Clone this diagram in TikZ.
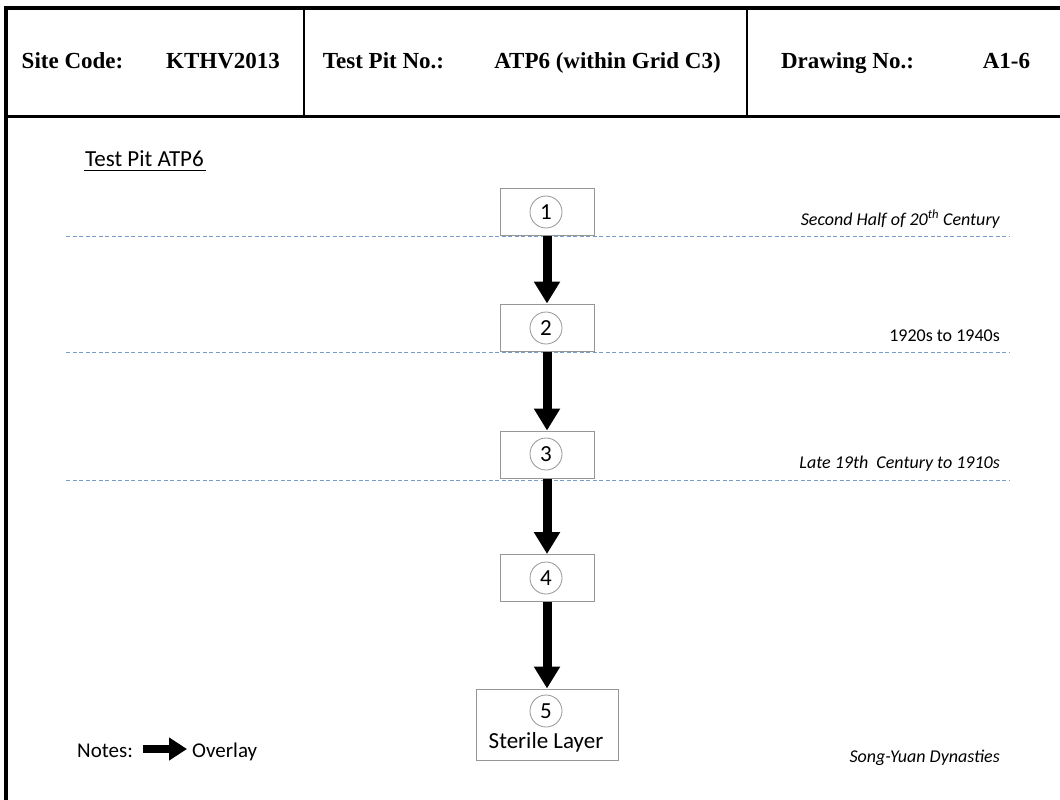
\documentclass[tikz,border=0pt]{standalone}
\usepackage{fontspec}
\setmainfont{Carlito}
\newfontfamily\hdfont{Liberation Serif}
\usetikzlibrary{arrows.meta,positioning}
\definecolor{dashblue}{RGB}{120,155,200}
\definecolor{boxgray}{RGB}{150,150,150}

\begin{document}
\begin{tikzpicture}[x=1pt,y=-1pt,
  every node/.style={inner sep=0pt},
  hdtext/.style={anchor=base,font=\hdfont\bfseries\fontsize{23}{27}\selectfont},
  layerbox/.style={draw=boxgray,line width=1pt,fill=white,minimum width=94pt,minimum height=47pt},
  numcirc/.style={circle,draw=boxgray,line width=.8pt,minimum size=32pt,font=\fontsize{23}{27}\selectfont},
  period/.style={anchor=base east,font=\itshape\fontsize{18}{22}\selectfont},
  seqline/.style={dashblue,line width=1pt,dash pattern=on 4pt off 2.5pt},
  overlay/.style={line width=9pt,-{Triangle[width=25pt,length=22pt]}}]
\useasboundingbox (0,0) rectangle (1060,800);
\draw[line width=4pt] (4,8)--(1060,8);
\draw[line width=4pt] (6,6)--(6,800);
\draw[line width=3pt] (6,116)--(1060,116);
\draw[line width=2.5pt] (304,8)--(304,116);
\draw[line width=1.2pt] (747,8)--(747,116);
\node[hdtext] (sc) at (72.5,69) {Site Code:};
\node[hdtext] (scv) at (223,69) {KTHV2013};
\node[hdtext] (tp) at (383.5,69) {Test Pit No.:};
\node[hdtext] (tpv) at (607.5,69) {ATP6 (within Grid C3)};
\node[hdtext] (dn) at (847.5,69) {Drawing No.:};
\node[hdtext] (dnv) at (1006.5,69) {A1-6};
\node[anchor=base west,font=\fontsize{23}{27}\selectfont] (title) at (85,166) {Test Pit ATP6};
\draw[line width=1pt] (84,170)--(206,170);
\draw[seqline] (66,236)--(1010,236);
\draw[seqline] (66,352)--(1010,352);
\draw[seqline] (66,480)--(1010,480);
\node[layerbox] (l1) at (547,211.5) {};
\node[layerbox] (l2) at (547,327.5) {};
\node[layerbox] (l3) at (547,454.5) {};
\node[layerbox] (l4) at (547,578) {};
\node[layerbox,minimum width=142pt,minimum height=71pt] (l5) at (547,724.5) {};
\node[numcirc] (c1) at (546,212) {1};
\node[numcirc] (c2) at (546,328) {2};
\node[numcirc] (c3) at (546,454) {3};
\node[numcirc] (c4) at (546,578) {4};
\node[numcirc] (c5) at (546,711) {5};
\node[anchor=base,font=\fontsize{23}{27}\selectfont] (sl) at (546,748) {Sterile Layer};
\draw[overlay] (l1)--(l2);
\draw[overlay] (l2)--(l3);
\draw[overlay] (l3)--(l4);
\draw[overlay] (l4)--(l5);
\node[period] (p1) at (1000,225) {Second Half of 20\textsuperscript{th} Century};
\node[period,font=\fontsize{18}{22}\selectfont] (p2) at (1000,341) {1920s to 1940s};
\node[period] (p3) at (1000,468) {Late 19th\ \ Century to 1910s};
\node[period] (p5) at (1000,762) {Song-Yuan Dynasties};
\node[anchor=base west,font=\fontsize{21}{25}\selectfont] (notes) at (77,757) {Notes:};
\node[anchor=base west,font=\fontsize{21}{25}\selectfont] (ovl) at (192,757) {Overlay};
\coordinate (na) at (143,749);
\coordinate (nb) at (187,749);
\draw[line width=8pt,-{Triangle[width=22pt,length=18pt]}] (na)--(nb);
\end{tikzpicture}
\end{document}
